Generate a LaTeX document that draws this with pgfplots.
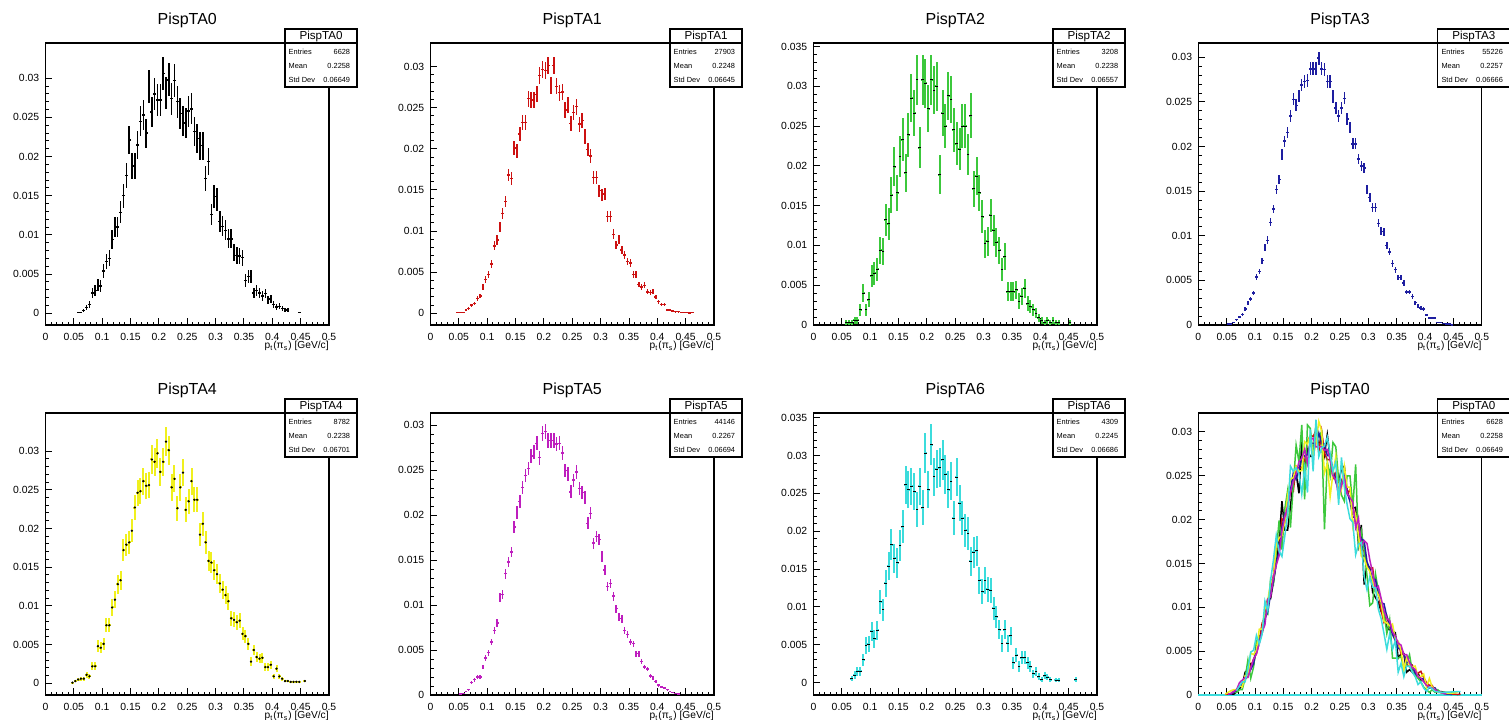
\documentclass[border=0pt]{standalone}
\usepackage{fontspec}
\setmainfont{Liberation Sans}
\usepackage{pgfplots}
\pgfplotsset{compat=1.18}
\usepackage{pgfplotstable}

\definecolor{cK}{RGB}{0,0,0}
\definecolor{cR}{RGB}{204,17,17}
\definecolor{cG}{RGB}{60,200,60}
\definecolor{cB}{RGB}{30,30,160}
\definecolor{cY}{RGB}{240,240,30}
\definecolor{cM}{RGB}{190,30,190}
\definecolor{cC}{RGB}{60,220,220}

\pgfplotstableread{
x y e
0.0575 0.0001 0.00012
0.0625 0.0001 0.00012
0.0675 0.00035 0.00023
0.0725 0.0007 0.00032
0.0775 0.0011 0.00041
0.0825 0.0026 0.00063
0.0875 0.0029 0.00066
0.0925 0.0036 0.00074
0.0975 0.0035 0.00073
0.1025 0.0054 0.00090
0.1075 0.0066 0.00100
0.1125 0.0070 0.00103
0.1175 0.0094 0.00119
0.1225 0.0110 0.00129
0.1275 0.0110 0.00129
0.1325 0.0129 0.00139
0.1375 0.0150 0.00150
0.1425 0.0176 0.00163
0.1475 0.0221 0.00182
0.1525 0.0188 0.00168
0.1575 0.0188 0.00168
0.1625 0.0215 0.00180
0.1675 0.0245 0.00192
0.1725 0.0253 0.00195
0.1775 0.0230 0.00186
0.1825 0.0289 0.00209
0.1875 0.0257 0.00197
0.1925 0.0280 0.00205
0.1975 0.0272 0.00202
0.2025 0.0272 0.00202
0.2075 0.0306 0.00215
0.2125 0.0281 0.00206
0.2175 0.0298 0.00212
0.2225 0.0274 0.00203
0.2275 0.0297 0.00211
0.2325 0.0270 0.00202
0.2375 0.0255 0.00196
0.2425 0.0246 0.00192
0.2475 0.0243 0.00191
0.2525 0.0258 0.00197
0.2575 0.0261 0.00198
0.2625 0.0232 0.00187
0.2675 0.0223 0.00183
0.2725 0.0213 0.00179
0.2775 0.0214 0.00179
0.2825 0.0172 0.00161
0.2875 0.0194 0.00171
0.2925 0.0126 0.00138
0.2975 0.0149 0.00150
0.3025 0.0145 0.00148
0.3075 0.0117 0.00133
0.3125 0.0111 0.00129
0.3175 0.0106 0.00126
0.3225 0.0095 0.00120
0.3275 0.0095 0.00120
0.3325 0.0077 0.00108
0.3375 0.0074 0.00106
0.3425 0.0073 0.00105
0.3475 0.0071 0.00103
0.3525 0.0042 0.00080
0.3575 0.0047 0.00084
0.3625 0.0047 0.00084
0.3675 0.0026 0.00063
0.3725 0.0029 0.00066
0.3775 0.0026 0.00063
0.3825 0.0022 0.00058
0.3875 0.0025 0.00061
0.3925 0.0017 0.00051
0.3975 0.0018 0.00052
0.4025 0.0011 0.00041
0.4075 0.0008 0.00035
0.4125 0.0009 0.00037
0.4175 0.0006 0.00030
0.4225 0.0004 0.00025
0.4275 0.0004 0.00025
0.4475 0.0001 0.00012
}\tA

\pgfplotstableread{
x y e
0.0475 0.0001 0.00006
0.0525 0.0001 0.00006
0.0575 0.0001 0.00006
0.0625 0.0004 0.00012
0.0675 0.0006 0.00015
0.0725 0.0010 0.00019
0.0775 0.0012 0.00021
0.0825 0.0018 0.00025
0.0875 0.0021 0.00027
0.0925 0.0032 0.00034
0.0975 0.0041 0.00038
0.1025 0.0047 0.00041
0.1075 0.0060 0.00046
0.1125 0.0082 0.00054
0.1175 0.0089 0.00056
0.1225 0.0105 0.00061
0.1275 0.0121 0.00066
0.1325 0.0136 0.00070
0.1375 0.0168 0.00077
0.1425 0.0164 0.00077
0.1475 0.0201 0.00085
0.1525 0.0197 0.00084
0.1575 0.0218 0.00088
0.1625 0.0232 0.00091
0.1675 0.0232 0.00091
0.1725 0.0261 0.00097
0.1775 0.0259 0.00096
0.1825 0.0259 0.00096
0.1875 0.0266 0.00097
0.1925 0.0289 0.00102
0.1975 0.0296 0.00103
0.2025 0.0295 0.00103
0.2075 0.0301 0.00104
0.2125 0.0277 0.00099
0.2175 0.0301 0.00104
0.2225 0.0276 0.00099
0.2275 0.0268 0.00098
0.2325 0.0269 0.00098
0.2375 0.0247 0.00094
0.2425 0.0253 0.00095
0.2475 0.0231 0.00091
0.2525 0.0244 0.00093
0.2575 0.0251 0.00095
0.2625 0.0230 0.00091
0.2675 0.0234 0.00091
0.2725 0.0215 0.00088
0.2775 0.0199 0.00084
0.2825 0.0191 0.00083
0.2875 0.0165 0.00077
0.2925 0.0165 0.00077
0.2975 0.0149 0.00073
0.3025 0.0144 0.00072
0.3075 0.0145 0.00072
0.3125 0.0118 0.00065
0.3175 0.0118 0.00065
0.3225 0.0096 0.00059
0.3275 0.0083 0.00054
0.3325 0.0090 0.00057
0.3375 0.0077 0.00052
0.3425 0.0071 0.00050
0.3475 0.0063 0.00047
0.3525 0.0061 0.00047
0.3575 0.0047 0.00041
0.3625 0.0047 0.00041
0.3675 0.0035 0.00035
0.3725 0.0032 0.00034
0.3775 0.0034 0.00035
0.3825 0.0026 0.00030
0.3875 0.0025 0.00030
0.3925 0.0027 0.00031
0.3975 0.0020 0.00027
0.4025 0.0014 0.00022
0.4075 0.0011 0.00020
0.4125 0.0011 0.00020
0.4175 0.0004 0.00012
0.4225 0.0004 0.00012
0.4275 0.0003 0.00010
0.4325 0.0002 0.00008
0.4375 0.0002 0.00008
0.4425 0.0001 0.00006
0.4475 0.0001 0.00006
0.4525 0.0001 0.00006
0.4575 0.00005 0.00004
0.4625 0.0001 0.00006
}\tB

\pgfplotstableread{
x y e
0.0575 0.0003 0.00031
0.0625 0.0003 0.00031
0.0675 0.0003 0.00031
0.0725 0.0006 0.00044
0.0775 0.0006 0.00044
0.0825 0.0019 0.00077
0.0875 0.0040 0.00112
0.0925 0.0019 0.00077
0.0975 0.0032 0.00100
0.1025 0.0062 0.00139
0.1075 0.0065 0.00142
0.1125 0.0070 0.00148
0.1175 0.0094 0.00171
0.1225 0.0092 0.00169
0.1275 0.0132 0.00203
0.1325 0.0127 0.00199
0.1375 0.0163 0.00225
0.1425 0.0199 0.00249
0.1475 0.0166 0.00227
0.1525 0.0212 0.00257
0.1575 0.0233 0.00269
0.1625 0.0191 0.00244
0.1675 0.0239 0.00273
0.1725 0.0285 0.00298
0.1775 0.0266 0.00288
0.1825 0.0308 0.00310
0.1875 0.0223 0.00263
0.1925 0.0308 0.00310
0.1975 0.0304 0.00308
0.2025 0.0272 0.00291
0.2075 0.0308 0.00310
0.2125 0.0295 0.00303
0.2175 0.0300 0.00306
0.2225 0.0189 0.00243
0.2275 0.0266 0.00288
0.2325 0.0250 0.00279
0.2375 0.0288 0.00299
0.2425 0.0283 0.00297
0.2475 0.0245 0.00276
0.2525 0.0228 0.00266
0.2575 0.0221 0.00262
0.2625 0.0250 0.00279
0.2675 0.0250 0.00279
0.2725 0.0214 0.00258
0.2775 0.0263 0.00286
0.2825 0.0171 0.00231
0.2875 0.0187 0.00241
0.2925 0.0166 0.00227
0.2975 0.0136 0.00206
0.3025 0.0102 0.00178
0.3075 0.0105 0.00181
0.3125 0.0138 0.00207
0.3175 0.0119 0.00193
0.3225 0.0104 0.00180
0.3275 0.0094 0.00171
0.3325 0.0070 0.00148
0.3375 0.0086 0.00164
0.3425 0.0042 0.00114
0.3475 0.0042 0.00114
0.3525 0.0042 0.00114
0.3575 0.0044 0.00117
0.3625 0.0030 0.00097
0.3675 0.0036 0.00106
0.3725 0.0046 0.00120
0.3775 0.0027 0.00092
0.3825 0.0023 0.00085
0.3875 0.0019 0.00077
0.3925 0.0015 0.00068
0.3975 0.0009 0.00053
0.4025 0.0006 0.00044
0.4075 0.0003 0.00031
0.4125 0.0006 0.00044
0.4175 0.0003 0.00031
0.4225 0.0006 0.00044
0.4275 0.0003 0.00031
0.4325 0.0003 0.00031
0.4525 0.0003 0.00031
}\tC

\pgfplotstableread{
x y e
0.0525 0.0001 0.00004
0.0575 0.0001 0.00004
0.0625 0.0003 0.00007
0.0675 0.0006 0.00010
0.0725 0.0009 0.00013
0.0775 0.0012 0.00015
0.0825 0.0018 0.00018
0.0875 0.0025 0.00021
0.0925 0.0029 0.00023
0.0975 0.0036 0.00026
0.1025 0.0054 0.00031
0.1075 0.0060 0.00033
0.1125 0.0072 0.00036
0.1175 0.0087 0.00040
0.1225 0.0095 0.00042
0.1275 0.0115 0.00046
0.1325 0.0130 0.00049
0.1375 0.0152 0.00053
0.1425 0.0163 0.00054
0.1475 0.0191 0.00059
0.1525 0.0206 0.00061
0.1575 0.0216 0.00063
0.1625 0.0234 0.00065
0.1675 0.0253 0.00068
0.1725 0.0246 0.00067
0.1775 0.0257 0.00068
0.1825 0.0269 0.00070
0.1875 0.0273 0.00071
0.1925 0.0274 0.00071
0.1975 0.0287 0.00072
0.2025 0.0287 0.00072
0.2075 0.0287 0.00072
0.2125 0.0299 0.00074
0.2175 0.0287 0.00072
0.2225 0.0286 0.00072
0.2275 0.0273 0.00071
0.2325 0.0273 0.00071
0.2375 0.0256 0.00068
0.2425 0.0243 0.00067
0.2475 0.0234 0.00065
0.2525 0.0243 0.00067
0.2575 0.0254 0.00068
0.2625 0.0231 0.00065
0.2675 0.0221 0.00063
0.2725 0.0203 0.00061
0.2775 0.0203 0.00061
0.2825 0.0186 0.00058
0.2875 0.0178 0.00057
0.2925 0.0176 0.00057
0.2975 0.0152 0.00053
0.3025 0.0143 0.00051
0.3075 0.0132 0.00049
0.3125 0.0132 0.00049
0.3175 0.0114 0.00046
0.3225 0.0105 0.00044
0.3275 0.0104 0.00044
0.3325 0.0089 0.00040
0.3375 0.0082 0.00039
0.3425 0.0069 0.00035
0.3475 0.0062 0.00034
0.3525 0.0053 0.00031
0.3575 0.0053 0.00031
0.3625 0.0047 0.00029
0.3675 0.0037 0.00026
0.3725 0.0037 0.00026
0.3775 0.0032 0.00024
0.3825 0.0025 0.00021
0.3875 0.0021 0.00020
0.3925 0.0019 0.00019
0.3975 0.0018 0.00018
0.4025 0.0011 0.00014
0.4075 0.0008 0.00012
0.4125 0.0008 0.00012
0.4175 0.0008 0.00012
0.4225 0.0003 0.00007
0.4275 0.0003 0.00007
0.4325 0.0002 0.00006
0.4375 0.0001 0.00004
0.4425 0.0001 0.00004
0.4475 0.00005 0.00003
}\tD

\pgfplotstableread{
x y e
0.0475 0.0001 0.00011
0.0525 0.0003 0.00018
0.0575 0.0005 0.00024
0.0625 0.0006 0.00026
0.0675 0.0006 0.00026
0.0725 0.0011 0.00035
0.0775 0.0009 0.00032
0.0825 0.0022 0.00050
0.0875 0.0022 0.00050
0.0925 0.0048 0.00074
0.0975 0.0046 0.00072
0.1025 0.0051 0.00076
0.1075 0.0075 0.00092
0.1125 0.0075 0.00092
0.1175 0.0098 0.00105
0.1225 0.0108 0.00111
0.1275 0.0128 0.00121
0.1325 0.0133 0.00123
0.1375 0.0172 0.00140
0.1425 0.0179 0.00143
0.1475 0.0182 0.00144
0.1525 0.0197 0.00150
0.1575 0.0227 0.00161
0.1625 0.0246 0.00167
0.1675 0.0248 0.00168
0.1725 0.0261 0.00172
0.1775 0.0255 0.00170
0.1825 0.0256 0.00171
0.1875 0.0289 0.00181
0.1925 0.0286 0.00180
0.1975 0.0297 0.00184
0.2025 0.0273 0.00176
0.2075 0.0286 0.00180
0.2125 0.0312 0.00188
0.2175 0.0301 0.00185
0.2225 0.0253 0.00170
0.2275 0.0264 0.00173
0.2325 0.0226 0.00160
0.2375 0.0253 0.00170
0.2425 0.0272 0.00176
0.2475 0.0224 0.00160
0.2525 0.0235 0.00163
0.2575 0.0261 0.00172
0.2625 0.0237 0.00164
0.2675 0.0237 0.00164
0.2725 0.0192 0.00148
0.2775 0.0206 0.00153
0.2825 0.0182 0.00144
0.2875 0.0158 0.00134
0.2925 0.0156 0.00133
0.2975 0.0146 0.00129
0.3025 0.0141 0.00127
0.3075 0.0129 0.00121
0.3125 0.0121 0.00117
0.3175 0.0114 0.00114
0.3225 0.0106 0.00110
0.3275 0.0084 0.00098
0.3325 0.0082 0.00097
0.3375 0.0079 0.00095
0.3425 0.0081 0.00096
0.3475 0.0064 0.00085
0.3525 0.0061 0.00083
0.3575 0.0051 0.00076
0.3625 0.0028 0.00056
0.3675 0.0043 0.00070
0.3725 0.0034 0.00062
0.3775 0.0032 0.00060
0.3825 0.0033 0.00061
0.3875 0.0021 0.00049
0.3925 0.0021 0.00049
0.3975 0.0024 0.00052
0.4025 0.0009 0.00032
0.4075 0.0019 0.00046
0.4125 0.0009 0.00032
0.4175 0.0006 0.00026
0.4225 0.0003 0.00018
0.4275 0.0003 0.00018
0.4325 0.0002 0.00015
0.4375 0.0002 0.00015
0.4425 0.0002 0.00015
0.4475 0.0002 0.00015
0.4575 0.0003 0.00018
}\tE

\pgfplotstableread{
x y e
0.0525 0.0001 0.00005
0.0575 0.0002 0.00007
0.0625 0.0004 0.00009
0.0675 0.0006 0.00012
0.0725 0.0014 0.00018
0.0775 0.0017 0.00020
0.0825 0.0020 0.00021
0.0875 0.0020 0.00021
0.0925 0.0031 0.00026
0.0975 0.0041 0.00030
0.1025 0.0047 0.00033
0.1075 0.0059 0.00036
0.1125 0.0072 0.00040
0.1175 0.0080 0.00042
0.1225 0.0109 0.00050
0.1275 0.0112 0.00050
0.1325 0.0135 0.00055
0.1375 0.0148 0.00058
0.1425 0.0159 0.00060
0.1475 0.0187 0.00065
0.1525 0.0203 0.00068
0.1575 0.0215 0.00070
0.1625 0.0231 0.00072
0.1675 0.0244 0.00074
0.1725 0.0252 0.00075
0.1775 0.0266 0.00077
0.1825 0.0270 0.00078
0.1875 0.0280 0.00079
0.1925 0.0264 0.00077
0.1975 0.0291 0.00081
0.2025 0.0293 0.00081
0.2075 0.0283 0.00080
0.2125 0.0283 0.00080
0.2175 0.0283 0.00080
0.2225 0.0279 0.00079
0.2275 0.0280 0.00079
0.2325 0.0269 0.00078
0.2375 0.0250 0.00075
0.2425 0.0246 0.00074
0.2475 0.0226 0.00071
0.2525 0.0239 0.00073
0.2575 0.0248 0.00075
0.2625 0.0230 0.00072
0.2675 0.0225 0.00071
0.2725 0.0220 0.00070
0.2775 0.0191 0.00066
0.2825 0.0202 0.00067
0.2875 0.0169 0.00062
0.2925 0.0176 0.00063
0.2975 0.0173 0.00062
0.3025 0.0154 0.00059
0.3075 0.0139 0.00056
0.3125 0.0121 0.00052
0.3175 0.0124 0.00053
0.3225 0.0110 0.00050
0.3275 0.0096 0.00046
0.3325 0.0087 0.00044
0.3375 0.0085 0.00044
0.3425 0.0072 0.00040
0.3475 0.0067 0.00039
0.3525 0.0059 0.00036
0.3575 0.0057 0.00036
0.3625 0.0046 0.00032
0.3675 0.0046 0.00032
0.3725 0.0037 0.00029
0.3775 0.0031 0.00026
0.3825 0.0029 0.00026
0.3875 0.0021 0.00022
0.3925 0.0019 0.00021
0.3975 0.0015 0.00018
0.4025 0.0011 0.00016
0.4075 0.0009 0.00014
0.4125 0.0008 0.00013
0.4175 0.0006 0.00012
0.4225 0.0004 0.00009
0.4275 0.0003 0.00008
0.4325 0.0002 0.00007
0.4375 0.0001 0.00005
}\tF

\pgfplotstableread{
x y e
0.0675 0.0005 0.00034
0.0725 0.0010 0.00048
0.0775 0.0015 0.00059
0.0825 0.0015 0.00059
0.0875 0.0030 0.00083
0.0925 0.0049 0.00107
0.0975 0.0051 0.00109
0.1025 0.0068 0.00126
0.1075 0.0058 0.00116
0.1125 0.0069 0.00127
0.1175 0.0107 0.00158
0.1225 0.0096 0.00149
0.1275 0.0131 0.00174
0.1325 0.0154 0.00189
0.1375 0.0182 0.00206
0.1425 0.0164 0.00195
0.1475 0.0158 0.00192
0.1525 0.0181 0.00205
0.1575 0.0206 0.00219
0.1625 0.0261 0.00246
0.1675 0.0255 0.00243
0.1725 0.0259 0.00245
0.1775 0.0252 0.00242
0.1825 0.0229 0.00231
0.1875 0.0259 0.00245
0.1925 0.0231 0.00232
0.1975 0.0303 0.00265
0.2025 0.0255 0.00243
0.2075 0.0314 0.00270
0.2125 0.0272 0.00251
0.2175 0.0282 0.00256
0.2225 0.0284 0.00257
0.2275 0.0294 0.00261
0.2325 0.0275 0.00253
0.2375 0.0255 0.00243
0.2425 0.0266 0.00249
0.2475 0.0217 0.00225
0.2525 0.0271 0.00251
0.2575 0.0237 0.00235
0.2625 0.0217 0.00225
0.2675 0.0201 0.00216
0.2725 0.0197 0.00214
0.2775 0.0160 0.00193
0.2825 0.0172 0.00200
0.2875 0.0174 0.00201
0.2925 0.0135 0.00177
0.2975 0.0120 0.00167
0.3025 0.0135 0.00177
0.3075 0.0123 0.00169
0.3125 0.0122 0.00168
0.3175 0.0098 0.00151
0.3225 0.0087 0.00142
0.3275 0.0070 0.00128
0.3325 0.0052 0.00110
0.3375 0.0070 0.00128
0.3425 0.0052 0.00110
0.3475 0.0062 0.00120
0.3525 0.0026 0.00078
0.3575 0.0036 0.00091
0.3625 0.0021 0.00070
0.3675 0.0033 0.00088
0.3725 0.0033 0.00088
0.3775 0.0026 0.00078
0.3825 0.0021 0.00070
0.3875 0.0012 0.00053
0.3925 0.0015 0.00059
0.3975 0.0008 0.00043
0.4025 0.0004 0.00030
0.4075 0.0009 0.00046
0.4125 0.0007 0.00040
0.4175 0.0004 0.00030
0.4275 0.0003 0.00026
0.4325 0.0003 0.00026
0.4625 0.0004 0.00030
}\tG

\pgfplotsset{
  rootpanel/.style={
    anchor=south west, scale only axis, width=141.75pt, height=141pt,
    xmin=0, xmax=0.5, clip=false,
    scaled x ticks=false, scaled y ticks=false,
    xtick={0,0.05,0.1,0.15,0.2,0.25,0.3,0.35,0.4,0.45,0.5},
    xticklabels={0,0.05,0.1,0.15,0.2,0.25,0.3,0.35,0.4,0.45,0.5},
    minor x tick num=4, minor y tick num=4,
    tick pos=left, tick align=inside,
    major tick length=3.4pt, minor tick length=1.7pt,
    tick style={black, line width=0.45pt},
    axis line style={line width=0.6pt},
    tick label style={font=\fontsize{5.2}{6}\selectfont},
    yticklabel style={xshift=0.4pt},
    xticklabel style={yshift=-0.5pt},
    title style={at={(0.5,1)}, anchor=center, yshift=5.5pt, font=\fontsize{8}{9.5}\selectfont},
    xlabel={p\textsubscript{t}(π\textsubscript{s}) [GeV/c]},
    xlabel style={at={(1,0)}, anchor=north east, yshift=-7.8pt, inner sep=0pt, font=\fontsize{5.1}{6}\selectfont},
  },
  yt30/.style={ytick={0,0.005,0.01,0.015,0.02,0.025,0.03}, yticklabels={0,0.005,0.01,0.015,0.02,0.025,0.03}},
  yt35/.style={ytick={0,0.005,0.01,0.015,0.02,0.025,0.03,0.035}, yticklabels={0,0.005,0.01,0.015,0.02,0.025,0.03,0.035}},
  ebar/.style={draw=none, mark=none,
    error bars/.cd, y dir=both, y explicit, x dir=both, x fixed=0.0025, error mark=none,
    error bar style={draw=#1, line width=0.7pt}},
  ebarthick/.style={draw=none, mark=none,
    error bars/.cd, y dir=both, y explicit, x dir=both, x fixed=0.0025, error mark=none,
    error bar style={draw=#1, line width=1pt}},
  dash/.style={only marks, mark=-, mark size=0.7pt, mark options={draw=black, line width=0.5pt}},
  ovl/.style={#1, line width=0.75pt, mark=none},
}

\newcommand{\statbox}[4]{%
  \draw[line width=0.6pt, fill=white] (axis description cs:0.8448,0.844) rectangle (axis description cs:1.0988,1.0496);
  \draw[line width=0.6pt] (axis description cs:0.8448,1) -- (axis description cs:1.0988,1);
  \node[inner sep=0pt, font=\fontsize{5.8}{6.5}\selectfont] at (axis description cs:0.9718,1.0248) {#1};
  \node[inner sep=0pt, anchor=west, font=\fontsize{3.7}{4}\selectfont] at (axis description cs:0.8565,0.969) {Entries};
  \node[inner sep=0pt, anchor=east, font=\fontsize{3.7}{4}\selectfont] at (axis description cs:1.0759,0.969) {#2};
  \node[inner sep=0pt, anchor=west, font=\fontsize{3.7}{4}\selectfont] at (axis description cs:0.8565,0.9195) {Mean};
  \node[inner sep=0pt, anchor=east, font=\fontsize{3.7}{4}\selectfont] at (axis description cs:1.0759,0.9195) {#3};
  \node[inner sep=0pt, anchor=west, font=\fontsize{3.7}{4}\selectfont] at (axis description cs:0.8565,0.8688) {Std Dev};
  \node[inner sep=0pt, anchor=east, font=\fontsize{3.7}{4}\selectfont] at (axis description cs:1.0759,0.8688) {#4};
}

\begin{document}
\begin{tikzpicture}
\path[use as bounding box] (0,0) rectangle (754.5pt,359.5pt);

% Row 1
\begin{axis}[rootpanel, yt30, at={(22.75pt,197pt)}, ymin=-0.0015, ymax=0.0345, title={PispTA0}]
\addplot[ebar=cK] table[x=x, y=y, y error=e] {\tA};
\statbox{PispTA0}{6628}{0.2258}{0.06649}
\end{axis}

\begin{axis}[rootpanel, yt30, at={(215.25pt,197pt)}, ymin=-0.00142, ymax=0.03285, title={PispTA1}]
\addplot[ebar=cR] table[x=x, y=y, y error=e] {\tB};
\statbox{PispTA1}{27903}{0.2248}{0.06645}
\end{axis}

\begin{axis}[rootpanel, yt35, at={(406.75pt,197pt)}, ymin=0, ymax=0.03543, title={PispTA2}]
\addplot[ebarthick=cG] table[x=x, y=y, y error=e] {\tC};
\addplot[dash] table[x=x, y=y] {\tC};
\statbox{PispTA2}{3208}{0.2238}{0.06557}
\end{axis}

\begin{axis}[rootpanel, yt30, at={(599.15pt,197pt)}, ymin=0, ymax=0.0316, title={PispTA3}]
\addplot[ebar=cB] table[x=x, y=y, y error=e] {\tD};
\statbox{PispTA3}{55226}{0.2257}{0.06666}
\end{axis}

% Row 2
\begin{axis}[rootpanel, yt30, at={(22.75pt,12pt)}, ymin=-0.0015, ymax=0.0349, title={PispTA4}]
\addplot[ebarthick=cY] table[x=x, y=y, y error=e] {\tE};
\addplot[only marks, mark=*, mark size=0.35pt, black] table[x=x, y=y] {\tE};
\statbox{PispTA4}{8782}{0.2238}{0.06701}
\end{axis}

\begin{axis}[rootpanel, yt30, at={(215.25pt,12pt)}, ymin=0, ymax=0.03137, title={PispTA5}]
\addplot[ebar=cM] table[x=x, y=y, y error=e] {\tF};
\statbox{PispTA5}{44146}{0.2267}{0.06694}
\end{axis}

\begin{axis}[rootpanel, yt35, at={(406.75pt,12pt)}, ymin=-0.00163, ymax=0.0356, title={PispTA6}]
\addplot[ebarthick=cC] table[x=x, y=y, y error=e] {\tG};
\addplot[dash] table[x=x, y=y] {\tG};
\statbox{PispTA6}{4309}{0.2245}{0.06686}
\end{axis}

\begin{axis}[rootpanel, yt30, at={(599.15pt,12pt)}, ymin=0, ymax=0.03216, title={PispTA0}]
\addplot[ovl=cC] coordinates {(0,0) (0.5,0)};
\addplot[ovl=cK] table[x=x, y=y] {\tA};
\addplot[ovl=cR] table[x=x, y=y] {\tB};
\addplot[ovl=cG] table[x=x, y=y] {\tC};
\addplot[ovl=cB] table[x=x, y=y] {\tD};
\addplot[ovl=cY] table[x=x, y=y] {\tE};
\addplot[ovl=cM] table[x=x, y=y] {\tF};
\addplot[ovl=cC] table[x=x, y=y] {\tG};
\statbox{PispTA0}{6628}{0.2258}{0.06649}
\end{axis}
\end{tikzpicture}
\end{document}
